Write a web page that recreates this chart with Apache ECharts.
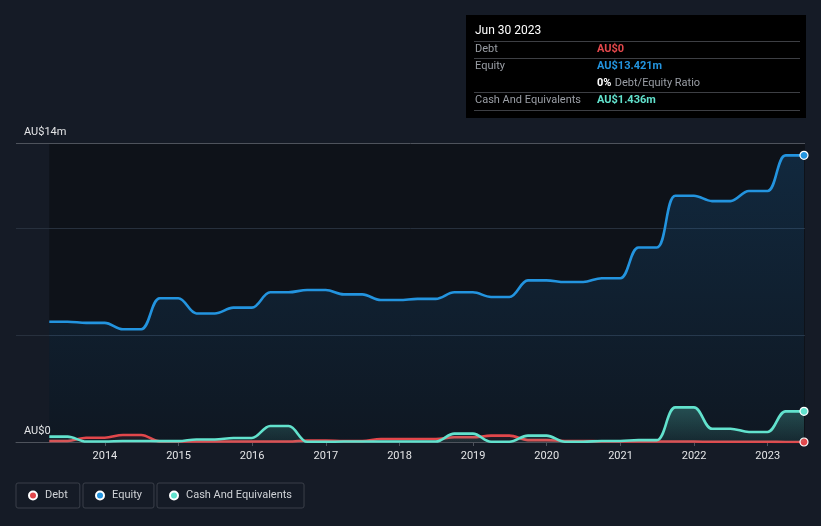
<!DOCTYPE html>
<html>
<head>
<meta charset="utf-8">
<script src="https://cdn.jsdelivr.net/npm/echarts@6/dist/echarts.min.js"></script>
<style>
html,body{margin:0;padding:0;background:#151b26;}
#c{width:821px;height:526px;}
</style>
</head>
<body>
<div id="c"></div>
<script>
const dates = [
 '2013-03-31','2013-06-30','2013-09-30','2013-12-31',
 '2014-03-31','2014-06-30','2014-09-30','2014-12-31',
 '2015-03-31','2015-06-30','2015-09-30','2015-12-31',
 '2016-03-31','2016-06-30','2016-09-30','2016-12-31',
 '2017-03-31','2017-06-30','2017-09-30','2017-12-31',
 '2018-03-31','2018-06-30','2018-09-30','2018-12-31',
 '2019-03-31','2019-06-30','2019-09-30','2019-12-31',
 '2020-03-31','2020-06-30','2020-09-30','2020-12-31',
 '2021-03-31','2021-06-30','2021-09-30','2021-12-31',
 '2022-03-31','2022-06-30','2022-09-30','2022-12-31',
 '2023-03-31','2023-06-30'
];
const equity = [5.63,5.63,5.58,5.58,5.28,5.28,6.73,6.73,6.02,6.02,6.29,6.29,7.01,7.01,7.12,7.12,6.91,6.91,6.65,6.65,6.70,6.70,7.01,7.01,6.79,6.79,7.57,7.57,7.49,7.49,7.67,7.67,9.11,9.11,11.53,11.53,11.28,11.28,11.75,11.75,13.421,13.421];
const cash = [0.25,0.25,0.02,0.02,0.05,0.05,0.04,0.04,0.12,0.12,0.19,0.19,0.75,0.75,0.01,0.01,0.02,0.02,0.02,0.02,0.02,0.02,0.39,0.39,0.01,0.01,0.30,0.30,0.01,0.01,0.05,0.05,0.09,0.09,1.62,1.62,0.62,0.62,0.47,0.47,1.436,1.436];
const debt = [0.05,0.05,0.2,0.2,0.33,0.33,0.03,0.03,0.02,0.02,0.02,0.02,0.02,0.02,0.07,0.07,0.04,0.04,0.14,0.14,0.14,0.14,0.22,0.22,0.3,0.3,0.09,0.09,0.05,0.05,0.03,0.03,0.02,0.02,0.02,0.02,0.01,0.01,0.01,0.01,0,0];
const yearTicks = [2014,2015,2016,2017,2018,2019,2020,2021,2022,2023];
const yTickLabels = {0:'AU$0', 14:'AU$14m'};
const tooltipTitle = 'Jun 30 2023';
const axisStart = '2012-10-17';
const axisEnd = '2023-07-05';

const FONT = 'Roboto';
const COLORS = {debt:'#e2474b', equity:'#2394df', cash:'#62e2cd'};

function ts(s){ const p = s.split('-').map(Number); return new Date(p[0], p[1]-1, p[2]).getTime(); }
function pairs(arr){ return arr.map((v,i)=>[ts(dates[i]), v]); }
const last = dates.length - 1;
function endSymbol(v, p){ return p.dataIndex === last ? 'circle' : 'none'; }
function fmtM(v){ return v === 0 ? 'AU$0' : 'AU$' + v.toFixed(3) + 'm'; }
function grad(rgb, a0, a1){
  return new echarts.graphic.LinearGradient(0,0,0,1,[
    {offset:0,color:'rgba('+rgb+','+a0+')'},
    {offset:1,color:'rgba('+rgb+','+a1+')'}]);
}
function lineSeries(name, data, color, rgb, a0, a1, z){
  return {
    name: name, type:'line',
    data: pairs(data), smooth:0.35, z:z,
    symbol:endSymbol, symbolSize:8, showSymbol:true,
    lineStyle:{color:color, width:2.6},
    itemStyle:{color:color, borderColor:'#ffffff', borderWidth:1.2},
    areaStyle:{color:grad(rgb,a0,a1), origin:'start'},
    emphasis:{disabled:true}, silent:true
  };
}

const chart = echarts.init(document.getElementById('c'), null, {renderer:'canvas'});
const ratio = Math.round(debt[last] / equity[last] * 100);
const yearTs = yearTicks.map(y=>new Date(y,0,1).getTime());

const legendBase = {
  top:483, orient:'horizontal', icon:'circle', itemWidth:8, itemHeight:8,
  borderColor:'#3a3f49', borderWidth:1, borderRadius:2, padding:[7,12,7,12],
  textStyle:{color:'#cfd2d6', fontFamily:FONT, fontSize:11, padding:[0,0,0,3]},
  selectedMode:false
};

const option = {
  backgroundColor:'#151b26',
  animation:false,
  grid:{left:16, right:16, top:143, bottom:84},
  xAxis:{type:'value', min:ts(axisStart), max:ts(axisEnd),
     axisLine:{lineStyle:{color:'#4e535c', width:1}},
     axisTick:{show:true, length:4, lineStyle:{color:'#4e535c'}, customValues: yearTs},
     axisLabel:{color:'#e4e5e7', fontFamily:FONT, fontSize:11, margin:9,
       customValues: yearTs,
       formatter:function(v){ return String(new Date(v).getFullYear()); }},
     splitLine:{show:false}, z:3},
  yAxis:{type:'value', min:0, max:14, interval:5,
     axisLine:{show:false}, axisTick:{show:false},
     splitLine:{show:true, lineStyle:{color:['#4e535c','#27303d','#27303d','#4e535c'], width:1}},
     axisLabel:{inside:true, margin:8, color:'#e4e5e7', fontFamily:FONT, fontSize:11,
       verticalAlign:'bottom', padding:[0,0,5,0],
       formatter:function(v){ return yTickLabels[v] !== undefined ? yTickLabels[v] : ''; }},
     z:1},
  legend:[
    Object.assign({}, legendBase, {left:16, data:['Debt']}),
    Object.assign({}, legendBase, {left:83, data:['Equity']}),
    Object.assign({}, legendBase, {left:157, data:['Cash And Equivalents']})
  ],
  series:[
    {type:'line', data:[], z:0, silent:true,
     markArea:{silent:true, z:0, itemStyle:{color:'#0e1219', borderWidth:0},
       data:[[{xAxis:ts(dates[0]), yAxis:0},{xAxis:ts(axisEnd), yAxis:14}]]}},
    lineSeries('Debt', debt, COLORS.debt, '226,71,75', 0.18, 0.05, 3),
    lineSeries('Equity', equity, COLORS.equity, '33,150,243', 0.24, 0.06, 2),
    lineSeries('Cash And Equivalents', cash, COLORS.cash, '98,226,205', 0.38, 0.12, 4)
  ],
  graphic:[
    {type:'group', left:466, top:15, children:[
      {type:'rect', shape:{x:0,y:0,width:340,height:103}, style:{fill:'#000000'}},
      {type:'text', x:9, y:16, style:{text:tooltipTitle, fill:'#ffffff', font:'12px '+FONT, verticalAlign:'middle'}},
      {type:'line', shape:{x1:8,y1:26.5,x2:334,y2:26.5}, style:{stroke:'#3d3f44', lineWidth:1}},
      {type:'text', x:9, y:34, style:{text:'Debt', fill:'#9a9ea5', font:'11px '+FONT, verticalAlign:'middle'}},
      {type:'text', x:131, y:34, style:{text:fmtM(debt[last]), fill:COLORS.debt, font:'bold 11px '+FONT, verticalAlign:'middle'}},
      {type:'line', shape:{x1:8,y1:43.5,x2:334,y2:43.5}, style:{stroke:'#3d3f44', lineWidth:1}},
      {type:'text', x:9, y:51.5, style:{text:'Equity', fill:'#9a9ea5', font:'11px '+FONT, verticalAlign:'middle'}},
      {type:'text', x:131, y:51.5, style:{text:fmtM(equity[last]), fill:COLORS.equity, font:'bold 11px '+FONT, verticalAlign:'middle'}},
      {type:'text', x:131, y:68.5, style:{
        rich:{a:{fill:'#ffffff', font:'bold 11px '+FONT}, b:{fill:'#9a9ea5', font:'11px '+FONT}},
        text:'{a|'+ratio+'%} {b|Debt/Equity Ratio}', verticalAlign:'middle'}},
      {type:'line', shape:{x1:8,y1:77.5,x2:334,y2:77.5}, style:{stroke:'#3d3f44', lineWidth:1}},
      {type:'text', x:9, y:85.5, style:{text:'Cash And Equivalents', fill:'#9a9ea5', font:'11px '+FONT, verticalAlign:'middle'}},
      {type:'text', x:131, y:85.5, style:{text:fmtM(cash[last]), fill:COLORS.cash, font:'bold 11px '+FONT, verticalAlign:'middle'}},
      {type:'line', shape:{x1:8,y1:95.5,x2:334,y2:95.5}, style:{stroke:'#3d3f44', lineWidth:1}}
    ]}
  ]
};
chart.setOption(option);
</script>
</body>
</html>
